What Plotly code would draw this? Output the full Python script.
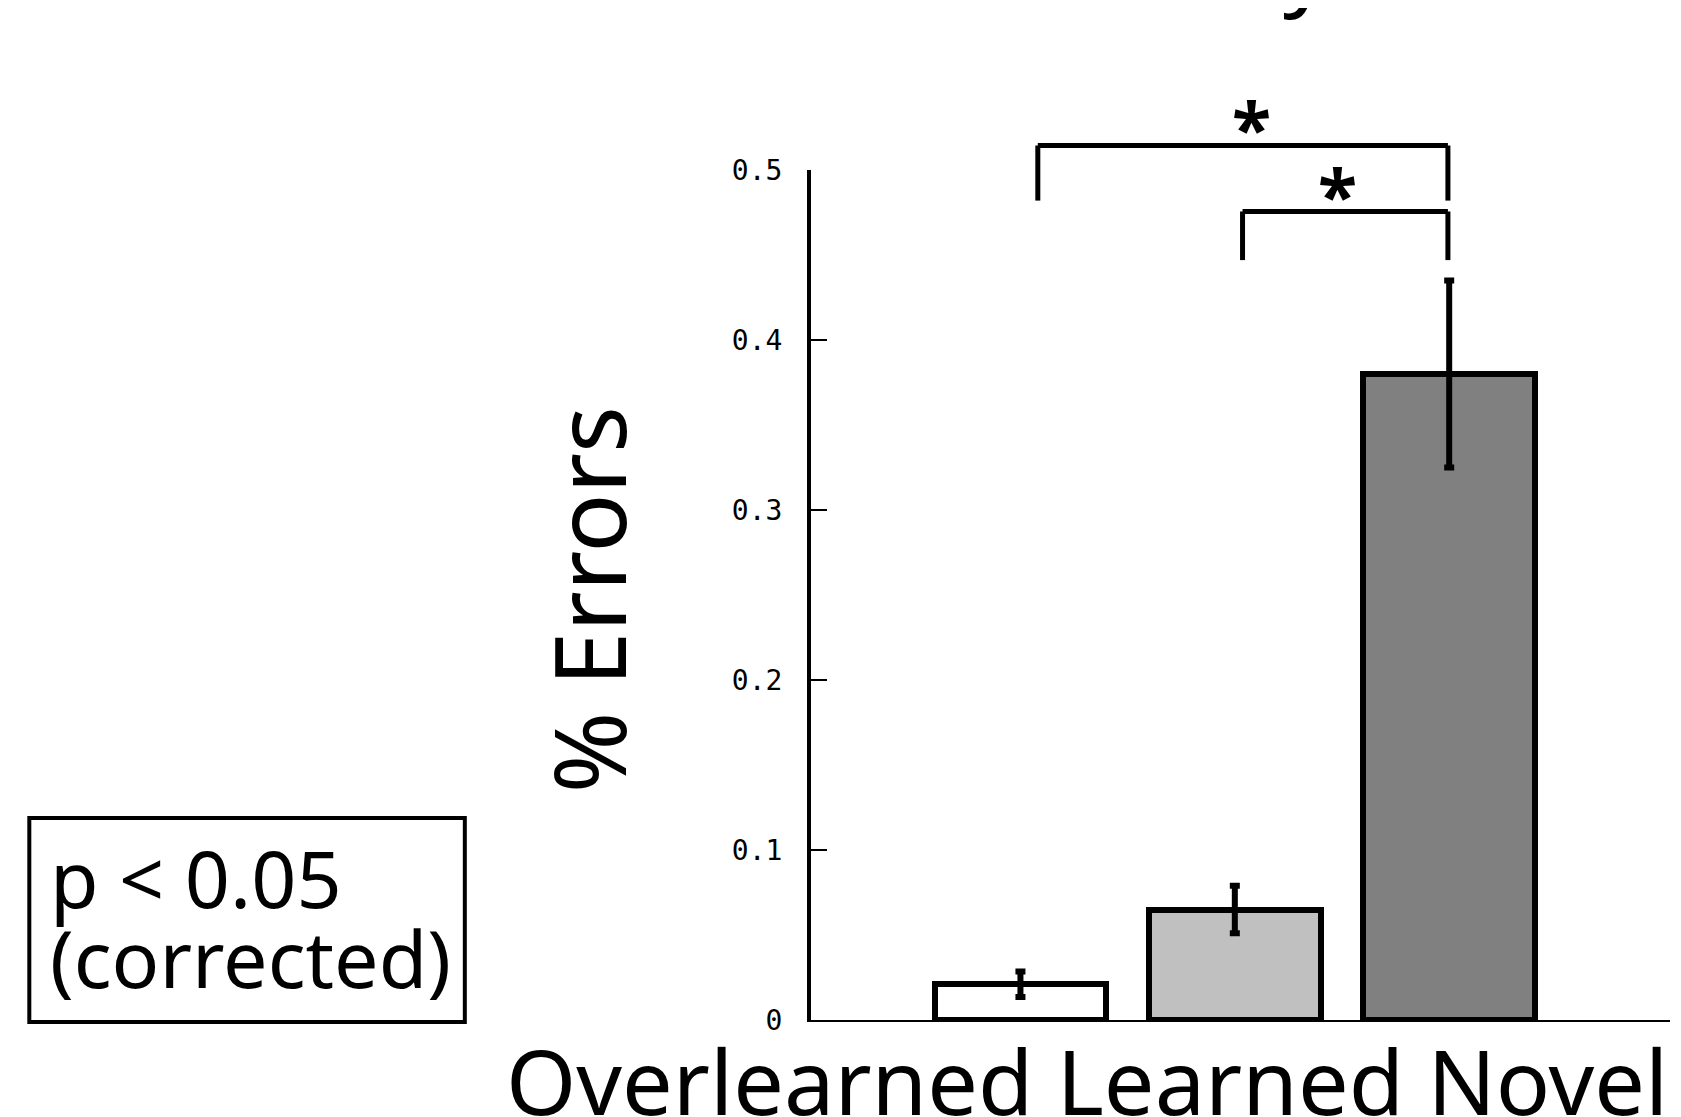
import plotly.graph_objects as go

# ---- data ----
categories = ["Overlearned", "Learned", "Novel"]
positions = [1, 2, 3]
errors_mean = [0.021, 0.065, 0.38]
errors_sem = [0.0075, 0.014, 0.055]
bar_colors = ["#ffffff", "#c0c0c0", "#808080"]
y_ticks = [0, 0.1, 0.2, 0.3, 0.4, 0.5]
y_tick_labels = ["0", "0.1", "0.2", "0.3", "0.4", "0.5"]
# significance brackets: (x_left, x_right, y_bar, y_left_end, y_right_end, star_x, star_y)
brackets = [
    (1.081, 2.994, 0.5144, 0.482, 0.482, 2.080, 0.525),
    (2.036, 2.994, 0.4756, 0.447, 0.447, 2.477, 0.486),
]
x_label_text = "Overlearned Learned Novel"
y_label_text = "% Errors"
legend_lines = ["p &lt; 0.05", "(corrected)"]
title_text = "Accuracy"

Y_MAX = 0.5
X_RANGE = [0.023, 4.03]
FONT = "Noto Sans"

fig = go.Figure()
fig.add_trace(go.Bar(
    x=positions, y=errors_mean, width=0.8,
    marker=dict(color=bar_colors, line=dict(color="black", width=6)),
    error_y=dict(type="data", array=errors_sem, color="black", thickness=6, width=5),
    showlegend=False,
))

shapes = []
annotations = []
for (xl, xr, yb, yle, yre, sx, sy) in brackets:
    shapes.append(dict(type="line", xref="x", yref="paper", x0=xl, x1=xr,
                       y0=yb / Y_MAX, y1=yb / Y_MAX, line=dict(color="black", width=5)))
    shapes.append(dict(type="line", xref="x", yref="paper", x0=xl, x1=xl,
                       y0=yb / Y_MAX, y1=yle / Y_MAX, line=dict(color="black", width=5)))
    shapes.append(dict(type="line", xref="x", yref="paper", x0=xr, x1=xr,
                       y0=yb / Y_MAX, y1=yre / Y_MAX, line=dict(color="black", width=5)))
    annotations.append(dict(x=sx, y=sy / Y_MAX, xref="x", yref="paper", text="<b>*</b>",
                            showarrow=False, xanchor="center", yanchor="middle",
                            font=dict(family=FONT, size=72, color="black")))

# p-value box
shapes.append(dict(type="rect", xref="paper", yref="paper",
                   x0=-0.910, x1=-0.403, y0=-0.0024, y1=0.2376,
                   line=dict(color="black", width=4), fillcolor="white", layer="below"))
annotations.append(dict(x=-0.8877, y=0.168, xref="paper", yref="paper", text=legend_lines[0],
                        showarrow=False, xanchor="left", yanchor="middle",
                        font=dict(family=FONT, size=79, color="black")))
annotations.append(dict(x=-0.8877, y=0.074, xref="paper", yref="paper", text=legend_lines[1],
                        showarrow=False, xanchor="left", yanchor="middle",
                        font=dict(family=FONT, size=79, color="black")))

# x label
annotations.append(dict(x=-0.357, y=-0.0706, xref="paper", yref="paper", text=x_label_text,
                        showarrow=False, xanchor="left", yanchor="middle",
                        font=dict(family=FONT, size=90, color="black")))
# y label
annotations.append(dict(x=-0.2595, y=0.494, xref="paper", yref="paper", text=y_label_text,
                        showarrow=False, xanchor="center", yanchor="middle", textangle=-90,
                        font=dict(family=FONT, size=98, color="black")))
# title (cut off by the top edge, only the descender shows)
annotations.append(dict(x=0.607, y=1.168, xref="paper", yref="paper", text=title_text,
                        showarrow=False, xanchor="right", yanchor="bottom",
                        font=dict(family=FONT, size=92, color="black")))

fig.update_layout(
    width=1673, height=1109,
    margin=dict(l=803, r=11, t=162, b=97),
    paper_bgcolor="white", plot_bgcolor="white",
    shapes=shapes, annotations=annotations,
    xaxis=dict(range=X_RANGE, showticklabels=False, ticks="", showgrid=False,
               zeroline=False, showline=True, linecolor="black", linewidth=2),
    yaxis=dict(range=[0, Y_MAX], tickvals=y_ticks, ticktext=y_tick_labels,
               ticks="inside", ticklen=16, tickwidth=2, tickcolor="black",
               showgrid=False, zeroline=False, showline=True, linecolor="black", linewidth=4,
               tickfont=dict(family="DejaVu Sans Mono", size=28, color="black"),
               ticklabelstandoff=19),
    bargap=0,
)

fig.write_html("out.html")
